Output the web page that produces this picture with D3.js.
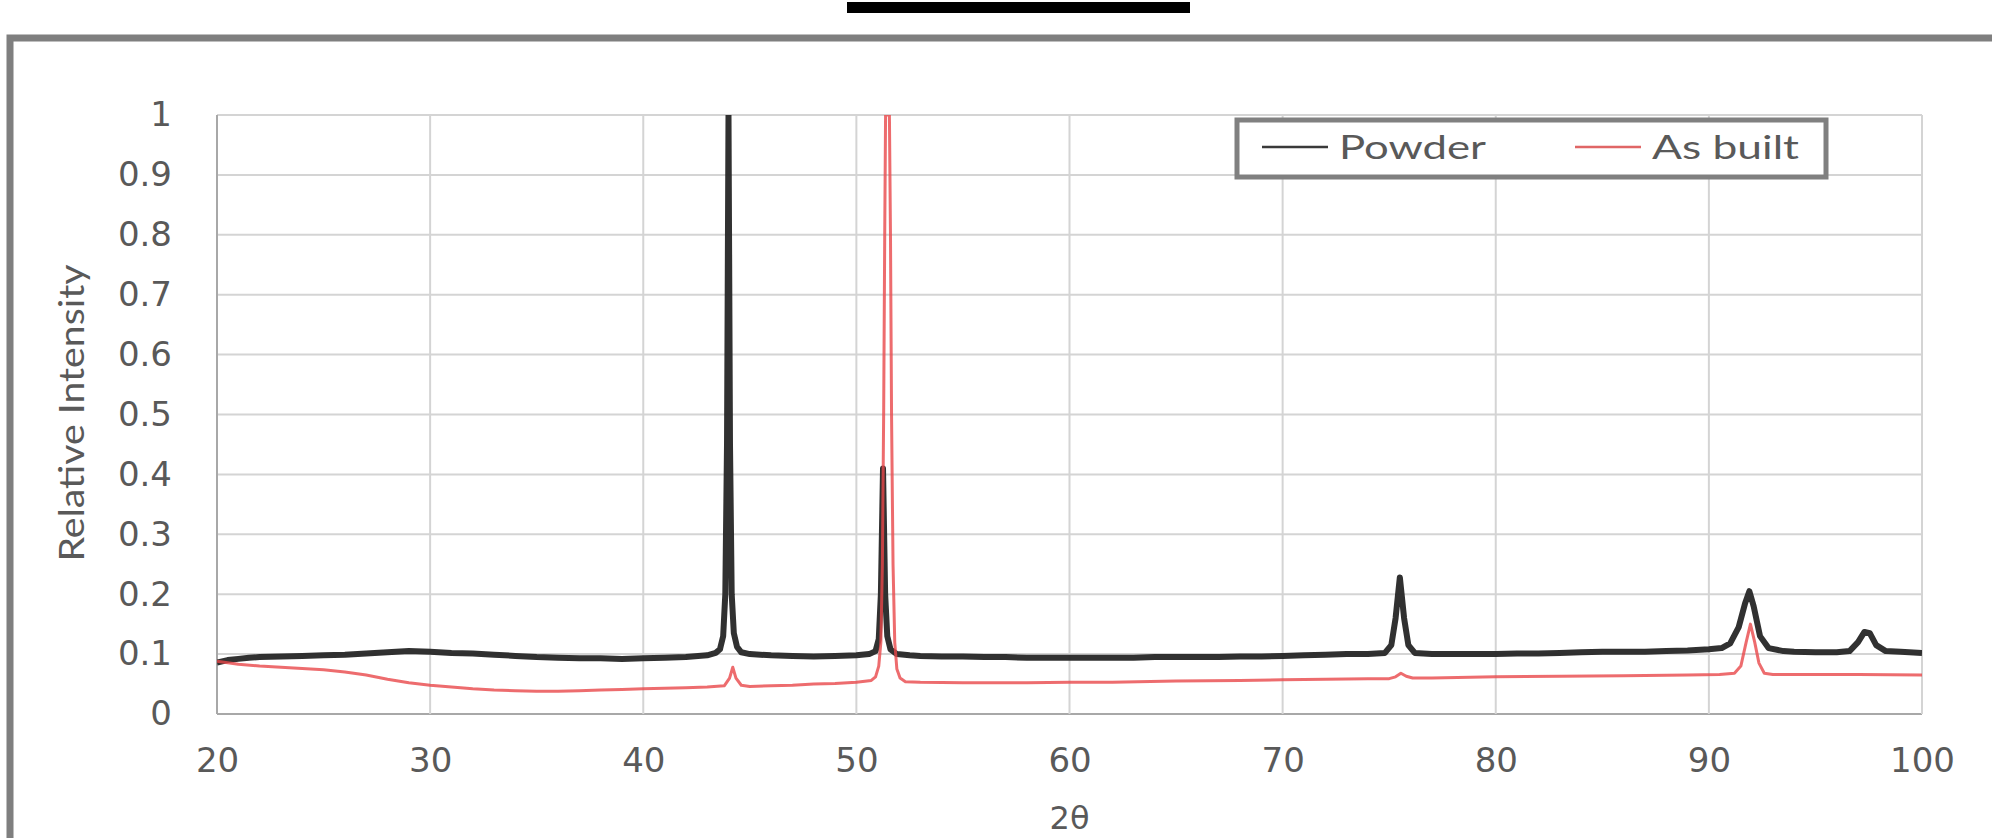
<!DOCTYPE html>
<html>
<head>
<meta charset="utf-8">
<script src="https://cdn.jsdelivr.net/npm/d3@7"></script>
<style>
    body { margin: 0; background: #fff; }
    svg { display: block; }
</style>
</head>
<body>
<svg id="chart" width="1992" height="838"></svg>
<script>
let xTicks = [20, 30, 40, 50, 60, 70, 80, 90, 100];
let yTicks = [0, 0.1, 0.2, 0.3, 0.4, 0.5, 0.6, 0.7, 0.8, 0.9, 1];
let seriesNames = ['Powder', 'As built'];
let seriesColors = ['#262626', '#e8474a'];

// Powder (2theta, relative intensity)
let powderTheta = [20, 20.5, 21, 21.5, 22, 23, 24, 25, 26, 27, 28, 29, 30, 31, 32, 33, 34, 35, 36, 37, 38, 39, 40, 41, 42, 43,
    43.4, 43.6, 43.75, 43.85, 43.93, 44, 44.07, 44.15, 44.25, 44.4, 44.6, 45, 46, 47, 48, 49, 50, 50.6,
    50.9, 51.05, 51.15, 51.25, 51.35, 51.45, 51.6, 51.9, 52.5, 53, 54, 55, 56, 57, 58, 59, 60, 61, 62, 63, 64, 65,
    66, 67, 68, 69, 70, 71, 72, 73, 74, 74.8, 75.1, 75.3, 75.5, 75.7, 75.9, 76.2, 77, 78, 79, 80, 81, 82, 83, 84,
    85, 86, 87, 88, 89, 90, 90.6, 91, 91.4, 91.7, 91.9, 92.1, 92.4, 92.8, 93.5, 94, 95, 96, 96.6, 97, 97.3, 97.55,
    97.85, 98.3, 99, 100];
let powderI = [0.086, 0.09, 0.092, 0.094, 0.095, 0.096, 0.097, 0.098, 0.099, 0.101, 0.103, 0.105, 0.104, 0.102, 0.101, 0.099, 0.097, 0.095, 0.094, 0.093, 0.093, 0.092, 0.093, 0.094, 0.095, 0.098,
    0.102, 0.108, 0.13, 0.2, 0.45, 1.0, 0.45, 0.2, 0.135, 0.112, 0.103, 0.1, 0.098, 0.097, 0.096, 0.097, 0.098, 0.1,
    0.105, 0.125, 0.2, 0.41, 0.2, 0.13, 0.108, 0.1, 0.098, 0.097, 0.096, 0.096, 0.095, 0.095, 0.094, 0.094, 0.094, 0.094, 0.094, 0.094, 0.095, 0.095,
    0.095, 0.095, 0.096, 0.096, 0.097, 0.098, 0.099, 0.1, 0.1, 0.102, 0.115, 0.16, 0.228, 0.16, 0.115, 0.102, 0.1, 0.1, 0.1, 0.1, 0.101, 0.101, 0.102, 0.103,
    0.104, 0.104, 0.104, 0.105, 0.106, 0.108, 0.11, 0.118, 0.145, 0.185, 0.205, 0.18, 0.13, 0.11, 0.105, 0.104, 0.103, 0.103, 0.105, 0.12, 0.137, 0.135,
    0.115, 0.105, 0.104, 0.102];

// As built
let builtTheta = [20, 21, 22, 23, 24, 25, 26, 27, 28, 29, 30, 31, 32, 33, 34, 35, 36, 37, 38, 39, 40, 41, 42, 43,
    43.8, 44.05, 44.2, 44.35, 44.6, 45, 46, 47, 48, 49, 50, 50.7, 50.9, 51.05, 51.15, 51.22, 51.28, 51.33, 51.37,
    51.55, 51.6, 51.65, 51.72, 51.8, 51.9, 52.05, 52.3, 53, 55, 58, 60, 62, 65, 68, 70, 72, 74, 75, 75.3, 75.55, 75.8,
    76.1, 77, 80, 83, 86, 89, 90.5, 91.2, 91.5, 91.75, 91.95, 92.15, 92.35, 92.6, 93, 95, 97, 100];
let builtI = [0.088, 0.083, 0.08, 0.078, 0.076, 0.074, 0.07, 0.065, 0.058, 0.052, 0.048, 0.045, 0.042, 0.04, 0.039, 0.038, 0.038, 0.039, 0.04, 0.041, 0.042, 0.043, 0.044, 0.045,
    0.047, 0.06, 0.078, 0.06, 0.048, 0.046, 0.047, 0.048, 0.05, 0.051, 0.053, 0.056, 0.062, 0.08, 0.12, 0.25, 0.5, 0.8, 1.0,
    1.0, 0.8, 0.5, 0.25, 0.12, 0.075, 0.06, 0.054, 0.053, 0.052, 0.052, 0.053, 0.053, 0.055, 0.056, 0.057, 0.058, 0.059, 0.059, 0.062, 0.068, 0.063,
    0.06, 0.06, 0.062, 0.063, 0.064, 0.065, 0.066, 0.068, 0.08, 0.12, 0.15, 0.12, 0.085, 0.068, 0.066, 0.066, 0.066, 0.065];

function zip(xs, ys) {
    return xs.map(function (v, i) { return [v, ys[i]]; });
}

function add_frame(svg) {
    // gray frame of the figure panel and the black bar above it
    svg.append('path')
        .attr('d', 'M10,838 L10,38 L1992,38')
        .attr('fill', 'none')
        .attr('stroke', '#7f7f7f')
        .attr('stroke-width', 7);
    svg.append('rect')
        .attr('x', 847).attr('y', 2)
        .attr('width', 343).attr('height', 11)
        .attr('fill', '#000');
}

function add_axes(g, x, y, width, height) {
    g.selectAll('.ygrid')
        .data(yTicks)
        .enter().append('line')
        .attr('class', 'ygrid')
        .attr('x1', 0).attr('x2', width)
        .attr('y1', d => y(d)).attr('y2', d => y(d))
        .attr('stroke', d => d === 0 ? '#a8a8a8' : '#d4d4d4')
        .attr('stroke-width', 2);

    g.selectAll('.xgrid')
        .data(xTicks)
        .enter().append('line')
        .attr('class', 'xgrid')
        .attr('y1', 0).attr('y2', height)
        .attr('x1', d => x(d)).attr('x2', d => x(d))
        .attr('stroke', d => d === 20 ? '#a8a8a8' : '#d4d4d4')
        .attr('stroke-width', 2);

    let yAxis = d3.axisLeft(y).tickValues(yTicks).tickSize(0).tickPadding(45).tickFormat(d3.format('~g'));
    let xAxis = d3.axisBottom(x).tickValues(xTicks).tickSize(0).tickPadding(34);

    g.append('g').call(yAxis).call(a => a.select('.domain').remove());
    g.append('g').attr('transform', 'translate(0,' + height + ')')
        .call(xAxis).call(a => a.select('.domain').remove());

    g.selectAll('.tick text')
        .attr('fill', '#595959')
        .style('font-family', 'DejaVu Sans')
        .style('font-size', '34px');
}

function add_legend(svg) {
    let lg = svg.append('g');
    lg.append('rect')
        .attr('x', 1237).attr('y', 120)
        .attr('width', 589).attr('height', 57)
        .attr('fill', '#fff')
        .attr('stroke', '#808080')
        .attr('stroke-width', 5);

    let itemX = [1262, 1575];
    let legendColors = ['#3a3a3a', '#e06666'];
    seriesNames.forEach(function (name, i) {
        lg.append('line')
            .attr('x1', itemX[i]).attr('x2', itemX[i] + 66)
            .attr('y1', 147).attr('y2', 147)
            .attr('stroke', legendColors[i])
            .attr('stroke-width', 2.5);
        lg.append('text')
            .attr('x', itemX[i] + 77).attr('y', 159)
            .attr('textLength', 147)
            .attr('lengthAdjust', 'spacingAndGlyphs')
            .attr('fill', '#595959')
            .style('font-family', 'Lato')
            .style('font-size', '33px')
            .text(name);
    });
}

function add_graph(selector) {
    let svg = d3.select(selector),
        margin = {left: 217, top: 115, right: 70, bottom: 124},
        width = +svg.attr('width') - margin.left - margin.right,
        height = +svg.attr('height') - margin.top - margin.bottom;

    add_frame(svg);

    let x = d3.scaleLinear().domain([20, 100]).range([0, width]);
    let y = d3.scaleLinear().domain([0, 1]).range([height, 0]);

    let g = svg.append('g').attr('transform', 'translate(' + margin.left + ',' + margin.top + ')');

    g.append('clipPath').attr('id', 'plot-clip')
        .append('rect').attr('x', 0).attr('y', 0).attr('width', width).attr('height', height);

    add_axes(g, x, y, width, height);

    let line = d3.line()
        .x(d => x(d[0]))
        .y(d => y(d[1]));

    let series = [zip(powderTheta, powderI), zip(builtTheta, builtI)];
    let widths = [6, 3];
    let opac = [0.95, 0.8];

    series.forEach(function (s, i) {
        g.append('path')
            .datum(s)
            .attr('clip-path', 'url(#plot-clip)')
            .attr('d', line)
            .attr('fill', 'none')
            .attr('stroke', seriesColors[i])
            .attr('stroke-opacity', opac[i])
            .attr('stroke-width', widths[i])
            .attr('stroke-linejoin', 'round');
    });

    // axis titles
    svg.append('text')
        .attr('transform', 'translate(70,413) rotate(-90)')
        .attr('text-anchor', 'middle')
        .attr('dominant-baseline', 'central')
        .attr('textLength', 297)
        .attr('lengthAdjust', 'spacingAndGlyphs')
        .attr('fill', '#595959')
        .style('font-family', 'Lato')
        .style('font-size', '34px')
        .text('Relative Intensity');

    svg.append('text')
        .attr('x', margin.left + width / 2)
        .attr('y', 829)
        .attr('text-anchor', 'middle')
        .attr('fill', '#595959')
        .style('font-family', 'DejaVu Sans')
        .style('font-size', '32px')
        .text('2θ');

    add_legend(svg);
}

add_graph('#chart');
</script>
</body>
</html>
